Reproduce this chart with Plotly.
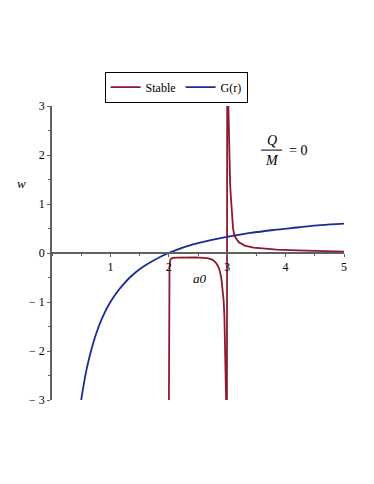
import plotly.graph_objects as go

# G(r) curve values
g_x = [0.5, 0.55, 0.6, 0.65, 0.7, 0.8, 0.9, 1.0, 1.1, 1.2, 1.35, 1.5, 1.7, 1.9, 2.1, 2.4, 2.7, 3.0, 3.4, 3.8, 4.2, 4.6, 5.0]
g_y = [-3.0, -2.64, -2.33, -2.08, -1.86, -1.5, -1.22, -1.0, -0.82, -0.67, -0.48, -0.33, -0.18, -0.05, 0.05, 0.17, 0.26, 0.33, 0.41, 0.47, 0.52, 0.57, 0.6]

# "Stable" curve values (one connected Maple-style curve)
s_x = [2.0, 2.003, 2.007, 2.012, 2.02, 2.03, 2.05, 2.08, 2.15, 2.3, 2.45, 2.6, 2.68, 2.75, 2.8, 2.84, 2.87, 2.9, 2.92, 2.94, 2.952, 2.962, 2.972, 2.99,
       2.995, 2.998, 3.0, 3.02, 3.03, 3.04, 3.05, 3.06, 3.07, 3.08, 3.09, 3.1, 3.12, 3.15, 3.2, 3.3, 3.45, 3.65, 3.85, 4.2, 4.6, 5.0]
s_y = [-3.5, -1.5, -0.6, -0.3, -0.17, -0.13, -0.11, -0.1, -0.095, -0.09, -0.09, -0.1, -0.11, -0.14, -0.19, -0.26, -0.35, -0.52, -0.7, -0.98, -1.3, -1.7, -2.3, -3.5,
       -3.5, 0.0, 3.5, 3.0, 2.2, 1.7, 1.4, 1.2, 1.0, 0.75, 0.58, 0.5, 0.38, 0.3, 0.22, 0.15, 0.11, 0.085, 0.07, 0.055, 0.04, 0.03]

x_ticks = [1, 2, 3, 4, 5]
y_ticks = [-3, -2, -1, 0, 1, 2, 3]

RED = "#8c1a2e"
BLUE = "#1c2a94"
AX = "#606060"
FONT = "Liberation Serif"

fig = go.Figure()
fig.add_trace(go.Scatter(x=s_x, y=s_y, mode="lines", name="Stable",
                         line=dict(color=RED, width=1.8)))
fig.add_trace(go.Scatter(x=g_x, y=g_y, mode="lines", name="G(r)",
                         line=dict(color=BLUE, width=1.8, shape="spline")))

fig.update_layout(
    width=374, height=484,
    margin=dict(l=44, r=38, t=98, b=92),
    paper_bgcolor="white", plot_bgcolor="white",
    font=dict(family=FONT, size=12, color="black"),
    showlegend=True,
    legend=dict(orientation="h", x=0.425, xanchor="center", y=1.117, yanchor="top",
                bordercolor="black", borderwidth=1, font=dict(size=12, family=FONT),
                itemwidth=30, tracegroupgap=0),
    xaxis=dict(range=[0, 5], tickvals=x_ticks, ticktext=[str(v) for v in x_ticks],
               showgrid=False, zeroline=False, showline=True, linecolor=AX, linewidth=1.5,
               anchor="free", position=0.5, ticks="outside", ticklen=3, tickcolor=AX,
               minor=dict(dtick=0.5, ticks="outside", ticklen=2, tickcolor=AX),
               tickfont=dict(size=12, family=FONT)),
    yaxis=dict(range=[-3, 3], tickvals=y_ticks, ticktext=[str(v) if v >= 0 else "\u2212 " + str(-v) for v in y_ticks],
               showgrid=False, zeroline=False, showline=True, linecolor=AX, linewidth=1.5,
               ticks="outside", ticklen=3, tickcolor=AX,
               minor=dict(dtick=0.5, ticks="outside", ticklen=2, tickcolor=AX),
               tickfont=dict(size=12, family=FONT)),
)

# axis labels
fig.add_annotation(x=-0.103, y=0.738, xref="paper", yref="paper", text="<i>w</i>", showarrow=False,
                   font=dict(size=13, family=FONT), xanchor="center", yanchor="middle")
fig.add_annotation(x=2.53, y=-0.52, xref="x", yref="y", text="<i>a0</i>", showarrow=False,
                   font=dict(size=13, family=FONT), xanchor="center", yanchor="middle")

# Q/M = 0 label
fig.add_annotation(x=3.76, y=2.3, xref="x", yref="y", text="<i>Q</i>", showarrow=False,
                   font=dict(size=14, family=FONT), xanchor="center", yanchor="middle")
fig.add_annotation(x=3.76, y=1.88, xref="x", yref="y", text="<i>M</i>", showarrow=False,
                   font=dict(size=14, family=FONT), xanchor="center", yanchor="middle")
fig.add_shape(type="line", xref="x", yref="y", x0=3.58, x1=3.94, y0=2.1, y1=2.1,
              line=dict(color="black", width=1))
fig.add_annotation(x=4.22, y=2.1, xref="x", yref="y", text="= 0", showarrow=False,
                   font=dict(size=14, family=FONT), xanchor="center", yanchor="middle")

fig.write_html("out.html")
